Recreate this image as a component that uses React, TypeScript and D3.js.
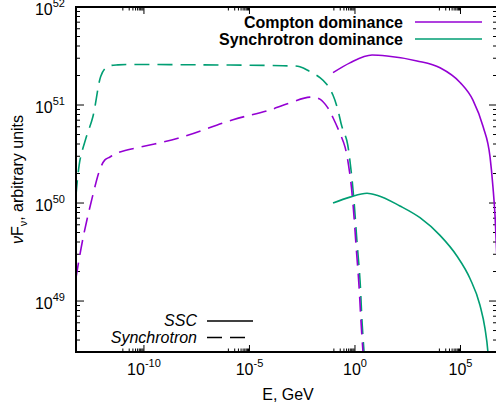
import React from "react";
import * as d3 from "d3";

// log10(E / GeV) and log10(nuF_nu)
const synCompE = [-13.22, -12.88, -12.40, -12.09, -11.85, -11.61, -11.29, -8.39, -5.78, -4.17, -2.13, -1.66, -1.28, -1.04, -0.71, -0.47, -0.24, -0.09, 0.05, 0.19, 0.28, 0.38, 0.45];
const synCompF = [49.24, 49.65, 50.10, 50.34, 50.44, 50.47, 50.51, 50.66, 50.85, 50.94, 51.08, 51.06, 50.97, 50.87, 50.71, 50.57, 50.29, 49.98, 49.57, 49.16, 48.81, 48.48, 48.3];

const synSynE = [-13.22, -13.03, -12.75, -12.42, -12.05, -11.85, -11.61, -11.23, -7.35, -3.41, -2.61, -2.13, -1.66, -1.33, -1.04, -0.81, -0.62, -0.39, -0.19, -0.05, 0.09, 0.24, 0.33, 0.43, 0.5];
const synSynF = [50.08, 50.44, 50.66, 50.88, 51.29, 51.37, 51.40, 51.41, 51.41, 51.40, 51.39, 51.34, 51.28, 51.21, 51.10, 50.95, 50.78, 50.64, 50.34, 50.03, 49.62, 49.21, 48.81, 48.48, 48.3];

const sscCompE = [-1.04, -0.24, 0.81, 1.52, 2.94, 4.03, 4.98, 5.59, 6.07, 6.40, 6.54, 6.64, 6.73, 6.8];
const sscCompF = [51.33, 51.43, 51.51, 51.50, 51.45, 51.38, 51.23, 51.05, 50.78, 50.47, 50.16, 49.86, 49.42, 49.0];

const sscSynE = [-1.04, -0.24, 0.57, 1.04, 2.13, 3.08, 4.03, 4.83, 5.45, 5.92, 6.16, 6.30, 6.36];
const sscSynF = [50.0, 50.06, 50.10, 50.08, 49.97, 49.85, 49.67, 49.46, 49.23, 48.96, 48.72, 48.48, 48.3];

const xMajorExp = [-10, -5, 0, 5];
const yMajorExp = [49, 50, 51, 52];
const legendTop = ["Compton dominance", "Synchrotron dominance"];
const legendBottom = ["SSC", "Synchrotron"];

const PURPLE = "#9400d3";
const GREEN = "#009e73";
const FONT = "'Liberation Sans', Arial, Helvetica, sans-serif";

export default function App() {
  const W = 496, H = 411;
  const left = 76, right = 497, top = 7, bottom = 352;
  const x = d3.scaleLog().domain([Math.pow(10, -13.22), Math.pow(10, 6.73)]).range([left, right]);
  const y = d3.scaleLog().domain([Math.pow(10, 48.48), Math.pow(10, 52)]).range([bottom, top]);

  const mk = (es: number[], fs: number[]) => {
    const pts = es.map((e, i) => [x(Math.pow(10, e)), y(Math.pow(10, fs[i]))] as [number, number]);
    return d3.line().curve(d3.curveMonotoneX)(pts) || "";
  };
  const mkY = (es: number[], fs: number[]) => {
    const pts = es.map((e, i) => [x(Math.pow(10, e)), y(Math.pow(10, fs[i]))] as [number, number]);
    return d3.line().curve(d3.curveCatmullRom.alpha(0.5))(pts) || "";
  };

  const xMinor: number[] = [];
  xMajorExp.forEach((n) => {
    for (let k = 1; k <= 9; k++) xMinor.push(k * Math.pow(10, n - 1));
  });
  const yMinor: number[] = [];
  for (let n = 48; n <= 51; n++) {
    for (let k = 2; k <= 9; k++) {
      const v = k * Math.pow(10, n);
      if (v >= Math.pow(10, 48.48)) yMinor.push(v);
    }
  }

  return (
    <svg width={W} height={H} style={{ position: "absolute", left: 0, top: 0, background: "#fff" }} fontFamily={FONT}>
      <defs>
        <clipPath id="plotclip">
          <rect x={left} y={top} width={right - left} height={bottom - top} />
        </clipPath>
      </defs>
      <rect x={0} y={0} width={W} height={H} fill="#fff" />

      {/* ticks */}
      <g stroke="#000" strokeWidth={1}>
        {yMajorExp.map((n) => {
          const yy = y(Math.pow(10, n));
          return (
            <g key={"ym" + n}>
              <line x1={left} x2={left + 8} y1={yy} y2={yy} />
              <line x1={right} x2={right - 8} y1={yy} y2={yy} />
            </g>
          );
        })}
        {yMinor.map((v, i) => {
          const yy = y(v);
          return (
            <g key={"yn" + i}>
              <line x1={left} x2={left + 4} y1={yy} y2={yy} />
              <line x1={right} x2={right - 4} y1={yy} y2={yy} />
            </g>
          );
        })}
        {xMajorExp.map((n) => {
          const xx = x(Math.pow(10, n));
          return (
            <g key={"xm" + n}>
              <line x1={xx} x2={xx} y1={bottom} y2={bottom - 7} />
              <line x1={xx} x2={xx} y1={top} y2={top + 7} />
            </g>
          );
        })}
        {xMinor.map((v, i) => {
          const xx = x(v);
          return (
            <g key={"xn" + i}>
              <line x1={xx} x2={xx} y1={bottom} y2={bottom - 3.5} />
              <line x1={xx} x2={xx} y1={top} y2={top + 3.5} />
            </g>
          );
        })}
      </g>

      {/* curves */}
      <g clipPath="url(#plotclip)" fill="none" strokeWidth={1.6}>
        <path d={mkY(synSynE, synSynF)} stroke={GREEN} strokeDasharray="15,8" />
        <path d={mkY(synCompE, synCompF)} stroke={PURPLE} strokeDasharray="15,8" />
        <path d={mk(sscCompE, sscCompF)} stroke={PURPLE} />
        <path d={mk(sscSynE, sscSynF)} stroke={GREEN} />
      </g>

      {/* frame */}
      <rect x={left} y={top} width={right - left} height={bottom - top} fill="none" stroke="#000" strokeWidth={2} />

      {/* y tick labels */}
      {yMajorExp.map((n) => {
        const yy = y(Math.pow(10, n));
        return (
          <text key={"yl" + n} x={65} y={yy + 8} textAnchor="end" fontSize={16} fill="#000">
            10<tspan dy={-8} fontSize={11}>{n}</tspan>
          </text>
        );
      })}

      {/* x tick labels */}
      {xMajorExp.map((n) => {
        const xx = x(Math.pow(10, n));
        return (
          <text key={"xl" + n} x={xx} y={375} textAnchor="middle" fontSize={16} fill="#000">
            10<tspan dy={-8} fontSize={11}>{n}</tspan>
          </text>
        );
      })}

      {/* axis titles */}
      <text x={288} y={400} textAnchor="middle" fontSize={16} fill="#000">E, GeV</text>
      <text transform={`translate(23,${(top + bottom) / 2}) rotate(-90)`} textAnchor="middle" fontSize={16} fill="#000">
        <tspan fontStyle="italic">ν</tspan>F<tspan dy={4} fontSize={11}>ν</tspan><tspan dy={-4}>, arbitrary units</tspan>
      </text>

      {/* top-right legend */}
      <text x={403} y={28} textAnchor="end" fontSize={16} fontWeight="bold" fill="#000">{legendTop[0]}</text>
      <line x1={415} x2={482} y1={22} y2={22} stroke={PURPLE} strokeWidth={1.6} />
      <text x={403} y={45} textAnchor="end" fontSize={16} fontWeight="bold" fill="#000">{legendTop[1]}</text>
      <line x1={415} x2={482} y1={39} y2={39} stroke={GREEN} strokeWidth={1.6} />

      {/* bottom-left legend */}
      <text x={197} y={326} textAnchor="end" fontSize={16} fontStyle="italic" fill="#000">{legendBottom[0]}</text>
      <line x1={207} x2={253} y1={321} y2={321} stroke="#000" strokeWidth={1.6} />
      <text x={197} y={343} textAnchor="end" fontSize={16} fontStyle="italic" fill="#000">{legendBottom[1]}</text>
      <line x1={207} x2={246} y1={337.5} y2={337.5} stroke="#000" strokeWidth={1.6} strokeDasharray="15,8" />
    </svg>
  );
}
